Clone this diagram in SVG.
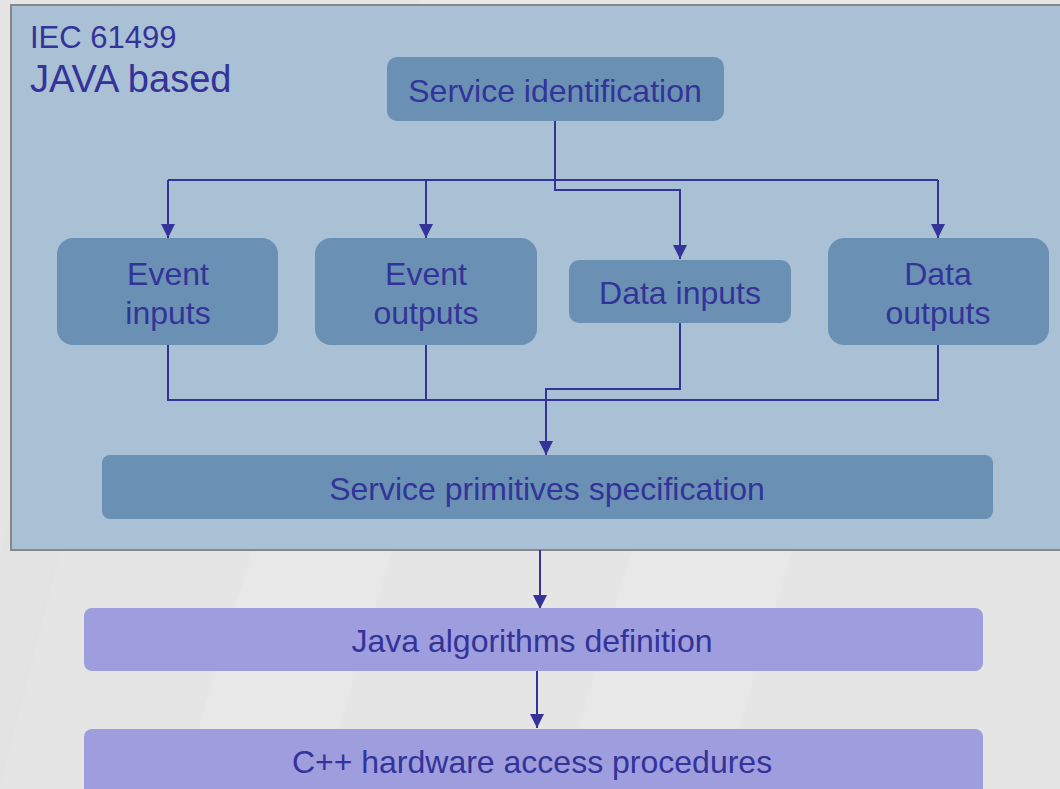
<svg xmlns="http://www.w3.org/2000/svg" width="1060" height="789" viewBox="0 0 1060 789">
  <defs>
    <marker id="arrow" viewBox="0 0 10 10" refX="10" refY="5" markerWidth="16" markerHeight="14" markerUnits="userSpaceOnUse" orient="auto">
      <path d="M0,0 L10,5 L0,10 Z" fill="#333399"/>
    </marker>
    <style>
      text { font-family: "Liberation Sans", Arial, sans-serif; fill: #333399; }
      .lbl { font-size: 32px; text-anchor: middle; }
      .step { fill: #6a91b4; }
      .impl { fill: #9e9ede; }
      .wire { fill: none; stroke: #333399; stroke-width: 2; }
    </style>
  </defs>

  <!-- page background with faint diagonal bands -->
  <rect x="0" y="0" width="1060" height="789" fill="#e5e5e5"/>
  <polygon points="180,789 420,0 560,0 320,789" fill="#e8e8e8"/>
  <polygon points="560,789 800,0 960,0 720,789" fill="#e8e8e8"/>
  <polygon points="0,560 120,0 200,0 0,789" fill="#e3e3e3"/>

  <!-- IEC 61499 frame -->
  <rect x="11" y="5" width="1060" height="545" fill="#aac0d5" stroke="#888888" stroke-width="2"/>
  <text x="30" y="48" font-size="31">IEC 61499</text>
  <text x="30" y="92" font-size="38">JAVA based</text>

  <!-- connectors -->
  <g id="connectors">
    <path class="wire" d="M555,121 V180 M168,180 H938"/>
    <path class="wire" d="M168,180 V238" marker-end="url(#arrow)"/>
    <path class="wire" d="M426,180 V238" marker-end="url(#arrow)"/>
    <path class="wire" d="M938,180 V238" marker-end="url(#arrow)"/>
    <path class="wire" d="M555,180 V190 H680 V259" marker-end="url(#arrow)"/>
    <path class="wire" d="M168,345 V400 H938 V345 M426,345 V400"/>
    <path class="wire" d="M680,323 V389 H546 V455" marker-end="url(#arrow)"/>
    <path class="wire" d="M540,550 V609" marker-end="url(#arrow)"/>
    <path class="wire" d="M537,668 V728" marker-end="url(#arrow)"/>
  </g>

  <!-- nodes -->
  <g id="service-identification">
    <rect class="step" x="387" y="57" width="337" height="64" rx="10"/>
    <text class="lbl" x="555" y="102">Service identification</text>
  </g>
  <g id="event-inputs">
    <rect class="step" x="57" y="238" width="221" height="107" rx="16"/>
    <text class="lbl" x="168" y="285">Event</text>
    <text class="lbl" x="168" y="324">inputs</text>
  </g>
  <g id="event-outputs">
    <rect class="step" x="315" y="238" width="222" height="107" rx="16"/>
    <text class="lbl" x="426" y="285">Event</text>
    <text class="lbl" x="426" y="324">outputs</text>
  </g>
  <g id="data-inputs">
    <rect class="step" x="569" y="260" width="222" height="63" rx="10"/>
    <text class="lbl" x="680" y="304">Data inputs</text>
  </g>
  <g id="data-outputs">
    <rect class="step" x="828" y="238" width="221" height="107" rx="16"/>
    <text class="lbl" x="938" y="285">Data</text>
    <text class="lbl" x="938" y="324">outputs</text>
  </g>
  <g id="service-primitives">
    <rect class="step" x="102" y="455" width="891" height="64" rx="8"/>
    <text class="lbl" x="547" y="500">Service primitives specification</text>
  </g>
  <g id="java-algorithms">
    <rect class="impl" x="84" y="608" width="899" height="63" rx="8"/>
    <text class="lbl" x="532" y="652">Java algorithms definition</text>
  </g>
  <g id="cpp-hardware-access">
    <rect class="impl" x="84" y="729" width="899" height="70" rx="8"/>
    <text class="lbl" x="532" y="773">C++ hardware access procedures</text>
  </g>
</svg>
